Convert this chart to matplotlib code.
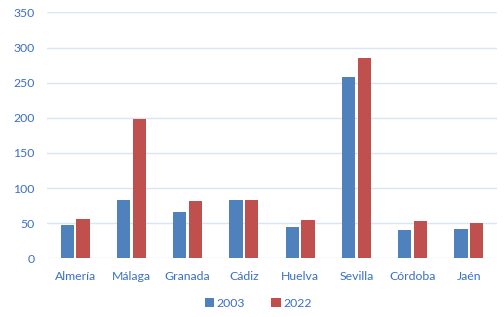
import matplotlib
matplotlib.use("Agg")
import matplotlib.pyplot as plt
import numpy as np

categories = ["Almería", "Málaga", "Granada", "Cádiz", "Huelva", "Sevilla", "Córdoba", "Jaén"]
series_2003 = [47, 83, 66, 83, 44, 258, 40, 42]
series_2022 = [56, 198, 81, 83, 54, 285, 53, 51]
yticks = [0, 50, 100, 150, 200, 250, 300, 350]

blue = "#4F81BD"
red = "#C0504D"
text_color = "#3A6FC4"
grid_color = "#D9E5F7"

plt.rcParams['font.family'] = ['Lato', 'DejaVu Sans']

fig = plt.figure(figsize=(5.04, 3.17), dpi=100)
ax = fig.add_axes([0.0933, 0.185, 0.893, 0.776])

x = np.arange(len(categories))
w = 0.235
ax.bar(x - 0.14, series_2003, width=w, color=blue, label="2003", zorder=3)
ax.bar(x + 0.14, series_2022, width=w, color=red, label="2022", zorder=3)

ax.set_xlim(-0.5, len(categories) - 0.5)
ax.set_ylim(0, 350)
ax.set_yticks(yticks)
ax.set_xticks(x)
ax.set_xticklabels(categories)
ax.yaxis.grid(True, color=grid_color, linewidth=1.0, zorder=0)
ax.set_axisbelow(True)
for s in ax.spines.values():
    s.set_visible(False)
ax.tick_params(axis='both', length=0, labelsize=8.8, colors=text_color)
ax.tick_params(axis='x', pad=9)
ax.tick_params(axis='y', pad=9)

leg = fig.legend(loc='center', bbox_to_anchor=(0.512, 0.044), ncol=2, frameon=False,
                 fontsize=8.8, handlelength=0.8, handleheight=0.8, handletextpad=0.15,
                 columnspacing=2.2)
for t in leg.get_texts():
    t.set_color(text_color)

fig.savefig("out.png", dpi=100)
